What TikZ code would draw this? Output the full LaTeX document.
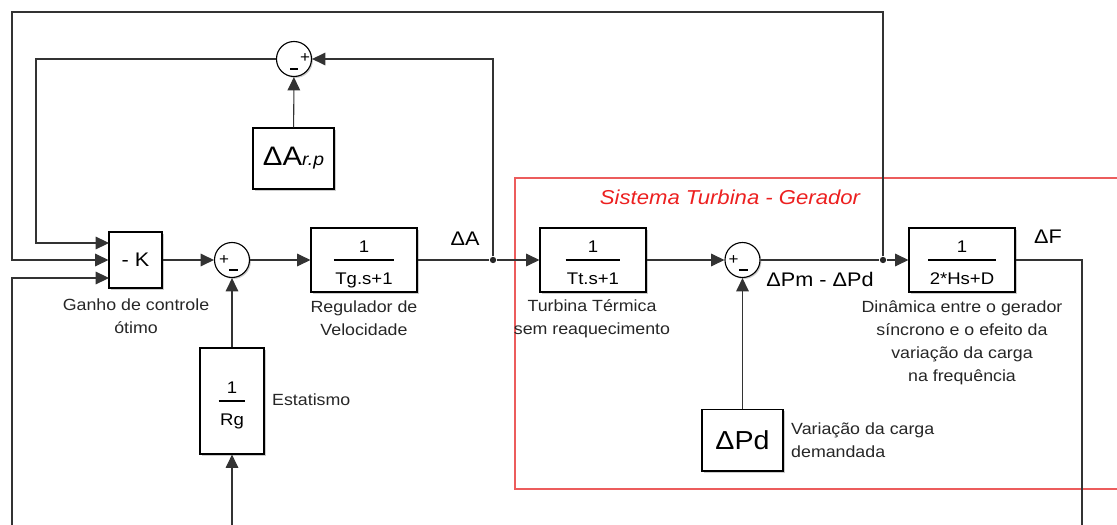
\documentclass[tikz,border=0pt]{standalone}
\usepackage{fontspec}
\setmainfont{Liberation Sans}[FakeStretch=1.1]
\usepackage{xcolor}
\usepackage{tikz}
\usetikzlibrary{arrows.meta, shadows}

\definecolor{boxred}{RGB}{236,92,92}
\definecolor{titred}{RGB}{236,32,32}
\setlength{\arrayrulewidth}{0.8pt}
\newcommand{\blkfrac}[2]{\begin{tabular}{@{\hspace{1pt}}c@{\hspace{1pt}}}\rule{0pt}{16pt}#1\\[1pt]\hline\rule{0pt}{17pt}#2\end{tabular}}

\begin{document}
\begin{tikzpicture}[x=0.025cm, y=-0.025cm, >={Triangle[length=9.5pt,width=9pt]},
  line width=0.75pt, font=\fontsize{11.5}{16.4}\selectfont,
  blk/.style={draw, fill=white, line width=0.8pt, inner sep=0pt,
    drop shadow={shadow xshift=1.2pt, shadow yshift=-1.2pt, fill=black!40},
    font=\fontsize{12}{14}\selectfont},
  sumnode/.style={draw, circle, fill=white, line width=0.8pt, minimum size=24.9pt, inner sep=0pt,
    drop shadow={shadow xshift=1pt, shadow yshift=-1pt, fill=black!40}},
  sgn/.style={inner sep=0pt, font=\fontsize{11}{12}\selectfont},
  wire/.style={draw=black!80},
  lbl/.style={align=center, text=black!85},
  sig/.style={font=\fontsize{14}{16}\selectfont},
  dot/.style={circle, fill=black!85, inner sep=0pt, minimum size=4.5pt}]
  \useasboundingbox (0,0) rectangle (1117,525);

  % turbine - generator frame
  \draw[boxred] (1117,178) -- (515,178) -- (515,489) -- (1117,489);
  \node[text=titred, font=\fontsize{14.3}{16}\selectfont\itshape] (title) at (730,197) {Sistema Turbina - Gerador};

  % blocks
  \node[blk, minimum width=37.7pt, minimum height=39.8pt, font=\fontsize{14}{16}\selectfont] (k) at (135.5,260) {- K};
  \node[sumnode] (sumg) at (232,260) {};
  \node[blk, minimum width=75.4pt, minimum height=45.5pt] (tg) at (364,260) {\blkfrac{1}{Tg.s+1}};
  \node[blk, minimum width=45.5pt, minimum height=75.4pt] (rg) at (232,401) {\blkfrac{1}{Rg}};
  \node[sumnode] (sumc) at (294,59) {};
  \node[blk, minimum width=57.6pt, minimum height=43.4pt] (arp) at (293.5,158.5)
    {\fontsize{19}{22}\selectfont ΔA\fontsize{12.5}{14}\selectfont\itshape r.p};
  \node[blk, minimum width=75.4pt, minimum height=45.5pt] (tt) at (593,260) {\blkfrac{1}{Tt.s+1}};
  \node[sumnode] (sump) at (742.5,260) {};
  \node[blk, minimum width=57.6pt, minimum height=44pt, font=\fontsize{18.5}{20}\selectfont] (pd) at (742.5,440) {ΔPd};
  \node[blk, minimum width=75.4pt, minimum height=45.5pt] (hs) at (962,260) {\blkfrac{1}{2*Hs+D}};

  % signs of the sums
  \node[sgn] at (224,260.5) {+};
  \draw (229,270) -- (238,270);
  \node[sgn] at (305,58.5) {+};
  \draw (290,69) -- (298,69);
  \node[sgn] at (733.5,260.5) {+};
  \draw (739,270) -- (748,270);

  % branch points and free ends
  \node[dot] (ja) at (493,260) {};
  \node[dot] (jf) at (883,260) {};
  \coordinate (kin1) at (109,243);
  \coordinate (kin3) at (109,278);
  \coordinate (inbot) at (12,525);
  \coordinate (rgin) at (232,525);
  \coordinate (fout) at (1082,525);

  % connectors
  \draw[wire, ->] (k) -- (sumg);
  \draw[wire, ->] (sumg) -- (tg);
  \draw[wire] (tg) -- (ja);
  \draw[wire, ->] (ja) -- (tt);
  \draw[wire, ->] (ja) |- (sumc);
  \draw[wire, ->] (arp) -- (sumc);
  \draw[wire, ->] (sumc) -- (36,59) -- (36,243) -- (kin1);
  \draw[wire, ->] (jf) -- (883,12) -- (12,12) -- (12,260) -- (k);
  \draw[wire, ->] (inbot) -- (12,278) -- (kin3);
  \draw[wire, ->] (rgin) -- (rg);
  \draw[wire, ->] (rg) -- (sumg);
  \draw[wire, ->] (tt) -- (sump);
  \draw[wire, ->] (pd) -- (sump);
  \draw[wire] (sump) -- (jf);
  \draw[wire, ->] (jf) -- (hs);
  \draw[wire] (hs) -- (1082,260) -- (fout);

  % signal names
  \node[sig] (la) at (465,239) {ΔA};
  \node[sig] (lpm) at (820,279) {ΔPm - ΔPd};
  \node[sig] (lf) at (1048,237) {ΔF};

  % block captions
  \node[lbl] (lk) at (136,316) {Ganho de controle\\ótimo};
  \node[lbl] (ltg) at (364,318) {Regulador de\\Velocidade};
  \node[lbl, anchor=west] (lrg) at (267,400) {Estatismo};
  \node[lbl] (ltt) at (592,319) {Turbina Térmica\\sem reaquecimento};
  \node[lbl] (lhs) at (962,342.5) {Dinâmica entre o gerador\\síncrono e o efeito da\\variação da carga\\na frequência};
  \node[lbl, anchor=west, align=left] (lpd) at (786,440) {Variação da carga\\demandada};
\end{tikzpicture}
\end{document}
